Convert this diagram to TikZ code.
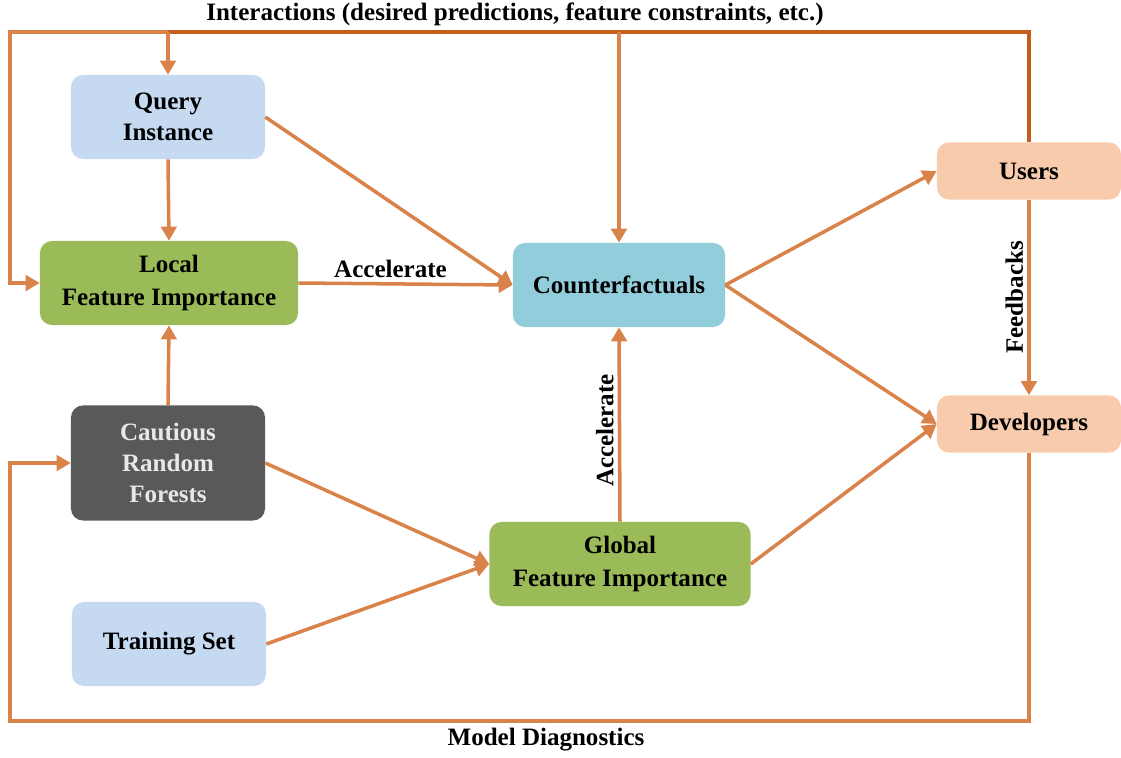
\documentclass[tikz,border=0pt]{standalone}
\usepackage{fontspec}
\setmainfont{Liberation Serif}
\usepackage{xcolor}
\usetikzlibrary{arrows.meta}
\definecolor{qblue}{HTML}{C5D9F1}
\definecolor{fgreen}{HTML}{9BBB59}
\definecolor{cfblue}{HTML}{92CDDC}
\definecolor{upeach}{HTML}{F8CBAD}
\definecolor{crfgray}{HTML}{595959}
\definecolor{crftext}{HTML}{E8E8E8}
\definecolor{arrowc}{HTML}{D9824A}
\definecolor{arrowd}{HTML}{C65D1C}

\begin{document}
\begin{tikzpicture}[x=0.025cm, y=-0.025cm]
% Define styles
\tikzstyle{box} = [rounded corners=0.3cm, text centered, align=center, inner sep=0pt, font=\fontsize{17.8}{22}\selectfont\bfseries]
\tikzstyle{link} = [draw=arrowc, line width=2.5pt, -{Triangle[length=10pt, width=11pt]}]
\tikzstyle{wire} = [draw=arrowc, line width=2.5pt]
\tikzstyle{lbl} = [font=\fontsize{17.8}{22}\selectfont\bfseries]
\useasboundingbox (0,0) rectangle (1121,758);

% Define nodes
\node[box, fill=qblue, minimum width=4.85cm, minimum height=2.1cm] (query) at (168,117) {Query\\Instance};
\node[box, fill=fgreen, minimum width=6.45cm, minimum height=2.1cm] (local) at (169,283) {Local\\[1pt]Feature Importance};
\node[box, fill=crfgray, text=crftext, minimum width=4.85cm, minimum height=2.875cm] (crf) at (168,463) {Cautious\\Random\\Forests};
\node[box, fill=qblue, minimum width=4.85cm, minimum height=2.1cm] (train) at (169,644) {Training Set};
\node[box, fill=cfblue, minimum width=5.3cm, minimum height=2.1cm] (cf) at (619,285) {Counterfactuals};
\node[box, fill=fgreen, minimum width=6.525cm, minimum height=2.1cm] (global) at (620,564) {Global\\[1pt]Feature Importance};
\node[box, fill=upeach, minimum width=4.6cm, minimum height=1.425cm] (users) at (1029,171) {Users};
\node[box, fill=upeach, minimum width=4.6cm, minimum height=1.425cm] (dev) at (1029,424) {Developers};

% Loop coordinates
\coordinate (tq) at (query.north |- 0,32);
\coordinate (tc) at (cf.north |- 0,32);
\coordinate (tl) at (10,32);
\coordinate (bl) at (10,721);

% Connect the nodes
\draw[link] (query.south) -- (local.north);
\draw[link] (query.east) -- (cf.west);
\draw[link] (local.east) -- node[lbl, pos=0.43, above, inner sep=3pt] {Accelerate} (cf.west);
\draw[link] (crf.north) -- (local.south);
\draw[link] (crf.east) -- (global.west);
\draw[link] (train.east) -- (global.west);
\draw[link] (global.north) -- node[lbl, pos=0.47, rotate=90, anchor=south, inner sep=3pt] {Accelerate} (cf.south);
\draw[link] (cf.east) -- (users.west);
\draw[link] (cf.east) -- (dev.west);
\draw[link] (global.east) -- (dev.west);
\draw[link] (users.south) -- node[lbl, midway, rotate=90, anchor=south, inner sep=3pt] {Feedbacks} (dev.north);

% Interactions loop
\draw[wire, draw=arrowd] (users.north) |- (tq);
\draw[link] (tq) -- (query.north);
\draw[link] (tc) -- (cf.north);
\draw[link] (tq) -- (tl) |- (local.west);
\node[lbl] (inter) at (515,14) {Interactions (desired predictions, feature constraints, etc.)};

% Diagnostics loop
\draw[link] (dev.south) |- (bl) |- (crf.west);
\node[lbl] (diag) at (546,740) {Model Diagnostics};

\end{tikzpicture}
\end{document}
